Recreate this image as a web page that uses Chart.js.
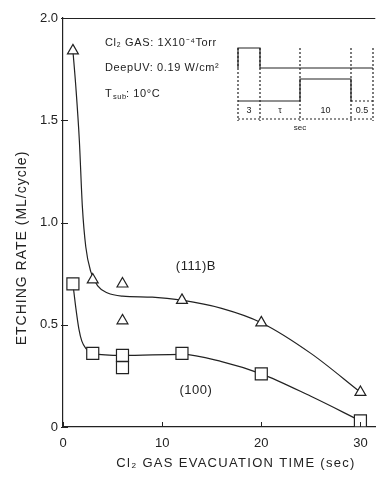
<!DOCTYPE html>
<html>
<head>
<meta charset="utf-8">
<script src="https://cdn.jsdelivr.net/npm/chart.js@4/dist/chart.umd.min.js"></script>
<style>
  html, body { margin: 0; padding: 0; background: #fff; }
  canvas { display: block; }
</style>
</head>
<body>
<canvas id="chart" width="385" height="481"></canvas>
<script>
// Measured etching rate per cycle versus Cl2 evacuation time
const evacTime111 = [1, 3, 6, 6, 12, 20, 30];
const rate111     = [1.84, 0.72, 0.70, 0.52, 0.62, 0.51, 0.17];
const evacTime100 = [1, 3, 6, 6, 12, 20, 30];
const rate100     = [0.70, 0.36, 0.35, 0.29, 0.36, 0.26, 0.03];

// Hand-drawn guide curves through each data set
const curveTime111 = [1, 1.3, 1.65, 1.95, 2.3, 2.8, 3.5, 4.5, 6, 9, 12, 16, 20, 25, 30];
const curveRate111 = [1.84, 1.66, 1.40, 1.08, 0.88, 0.76, 0.69, 0.655, 0.64, 0.635, 0.62, 0.58, 0.51, 0.36, 0.17];
const curveTime100 = [1, 1.3, 1.6, 1.9, 2.3, 3, 6, 12, 16, 20, 25, 30];
const curveRate100 = [0.70, 0.58, 0.48, 0.42, 0.385, 0.36, 0.35, 0.355, 0.32, 0.26, 0.15, 0.03];

const xTickValues = [0, 10, 20, 30];
const xTickLabels = ['0', '10', '20', '30'];
const yTickValues = [0, 0.5, 1.0, 1.5, 2.0];
const yTickLabels = ['0', '0.5', '1.0', '1.5', '2.0'];

const xTitle = 'Cl\u2082 GAS EVACUATION TIME (sec)';
const yTitle = 'ETCHING RATE (ML/cycle)';

const INK = '#222';
const FONT = "'Liberation Sans', Arial, sans-serif";

const pts = (xs, ys) => xs.map((x, i) => ({ x: x, y: ys[i] }));

// Axis titles (letter-spaced), inward ticks, top frame, curve labels and the process-condition inset
const decorations = {
  id: 'decorations',
  afterDraw(chart) {
    const { ctx, chartArea: a, scales: { x, y } } = chart;
    ctx.save();
    ctx.strokeStyle = INK;
    ctx.fillStyle = INK;
    ctx.lineWidth = 1;

    // top frame
    ctx.beginPath();
    ctx.moveTo(a.left, a.top + 0.5);
    ctx.lineTo(a.right, a.top + 0.5);
    ctx.stroke();

    // inward ticks
    ctx.beginPath();
    yTickValues.forEach(v => {
      const py = Math.round(y.getPixelForValue(v)) + 0.5;
      ctx.moveTo(a.left - 2, py);
      ctx.lineTo(a.left + 5, py);
    });
    xTickValues.forEach(v => {
      const px = Math.round(x.getPixelForValue(v)) + 0.5;
      ctx.moveTo(px, a.bottom);
      ctx.lineTo(px, a.bottom - 5);
    });
    ctx.stroke();

    // axis titles
    ctx.textAlign = 'center';
    ctx.textBaseline = 'middle';
    ctx.letterSpacing = '1.3px';
    ctx.font = '13px ' + FONT;
    ctx.fillText(xTitle, 236, 463);
    ctx.save();
    ctx.translate(22, 248);
    ctx.rotate(-Math.PI / 2);
    ctx.letterSpacing = '1px';
    ctx.font = '14px ' + FONT;
    ctx.fillText(yTitle, 0, 0);
    ctx.restore();

    // curve labels
    ctx.letterSpacing = '0.5px';
    ctx.font = '13px ' + FONT;
    ctx.fillText('(111)B', x.getPixelForValue(13.4), y.getPixelForValue(0.785));
    ctx.fillText('(100)', x.getPixelForValue(13.4), y.getPixelForValue(0.18));

    // process conditions
    const L = a.left, T = a.top;
    ctx.textAlign = 'left';
    ctx.letterSpacing = '0.6px';
    ctx.font = '11px ' + FONT;
    ctx.fillText('Cl\u2082 GAS: 1X10\u207B\u2074Torr', L + 42, T + 25);
    ctx.fillText('DeepUV: 0.19 W/cm\u00B2', L + 42, T + 50);
    ctx.fillText('T', L + 42, T + 76);
    ctx.font = '7.5px ' + FONT;
    ctx.fillText('sub', L + 50, T + 79);
    ctx.font = '11px ' + FONT;
    ctx.fillText(': 10\u00B0C', L + 63, T + 76);
    ctx.letterSpacing = '0px';

    // pulse timing diagram
    const x0 = L + 175, x1 = L + 197, x2 = L + 237, x3 = L + 288, x4 = L + 310;
    const yCl = T + 30, yClLow = T + 50, yUV = T + 61, yUVLow = T + 83, yAxis = T + 101;
    ctx.lineWidth = 1.2;
    ctx.beginPath();
    ctx.moveTo(x0, yClLow); ctx.lineTo(x0, yCl); ctx.lineTo(x1, yCl);
    ctx.lineTo(x1, yClLow); ctx.lineTo(x4, yClLow);
    ctx.moveTo(x0, yUVLow); ctx.lineTo(x2, yUVLow); ctx.lineTo(x2, yUV);
    ctx.lineTo(x3, yUV); ctx.lineTo(x3, yUVLow);
    ctx.stroke();
    ctx.setLineDash([2, 2]);
    ctx.beginPath();
    ctx.moveTo(x3, yUVLow); ctx.lineTo(x4, yUVLow);
    [x0, x1, x2, x3, x4].forEach(px => { ctx.moveTo(px, yCl); ctx.lineTo(px, yAxis + 2); });
    ctx.moveTo(x0, yAxis); ctx.lineTo(x4, yAxis);
    ctx.stroke();
    ctx.setLineDash([]);
    ctx.font = '9px ' + FONT;
    ctx.textAlign = 'center';
    ctx.fillText('3', (x0 + x1) / 2, yAxis - 8);
    ctx.fillText('\u03C4', (x1 + x2) / 2, yAxis - 8);
    ctx.fillText('10', (x2 + x3) / 2, yAxis - 8);
    ctx.fillText('0.5', (x3 + x4) / 2, yAxis - 8);
    ctx.font = '8px ' + FONT;
    ctx.fillText('sec', x2, yAxis + 9);
    ctx.restore();
  }
};

new Chart(document.getElementById('chart'), {
  type: 'scatter',
  data: {
    datasets: [
      {
        label: '(111)B',
        data: pts(evacTime111, rate111),
        pointStyle: 'triangle',
        pointRadius: 6.3,
        pointBorderWidth: 1.2,
        borderColor: INK,
        backgroundColor: '#fff',
        showLine: false
      },
      {
        label: '(100)',
        data: pts(evacTime100, rate100),
        pointStyle: 'rect',
        pointRadius: 8.5,
        pointBorderWidth: 1.2,
        borderColor: INK,
        backgroundColor: '#fff',
        showLine: false
      },
      {
        label: '(111)B fit',
        data: pts(curveTime111, curveRate111),
        showLine: true,
        pointRadius: 0,
        borderColor: INK,
        borderWidth: 1.2,
        cubicInterpolationMode: 'monotone'
      },
      {
        label: '(100) fit',
        data: pts(curveTime100, curveRate100),
        showLine: true,
        pointRadius: 0,
        borderColor: INK,
        borderWidth: 1.2,
        cubicInterpolationMode: 'monotone'
      }
    ]
  },
  options: {
    responsive: false,
    animation: false,
    devicePixelRatio: 1,
    layout: { padding: { left: 0, right: 1, top: 18, bottom: 0 } },
    plugins: { legend: { display: false }, tooltip: { enabled: false } },
    scales: {
      x: {
        type: 'linear',
        min: 0,
        max: 31.5,
        afterFit(s) { s.height = 54; },
        afterBuildTicks(s) { s.ticks = xTickValues.map(v => ({ value: v })); },
        grid: { display: false, drawTicks: false },
        border: { display: true, color: INK, width: 1.2 },
        ticks: {
          padding: 9,
          color: INK,
          font: { family: FONT, size: 13 },
          callback: (v) => xTickLabels[xTickValues.indexOf(v)]
        }
      },
      y: {
        type: 'linear',
        min: 0,
        max: 2.0,
        afterFit(s) { s.width = 63; },
        afterBuildTicks(s) { s.ticks = yTickValues.map(v => ({ value: v })); },
        grid: { display: false, drawTicks: false },
        border: { display: true, color: INK, width: 1.2, dash: [7, 2] },
        ticks: {
          padding: 5,
          color: INK,
          font: { family: FONT, size: 13 },
          callback: (v) => yTickLabels[yTickValues.indexOf(v)]
        }
      }
    }
  },
  plugins: [decorations]
});
</script>
</body>
</html>
